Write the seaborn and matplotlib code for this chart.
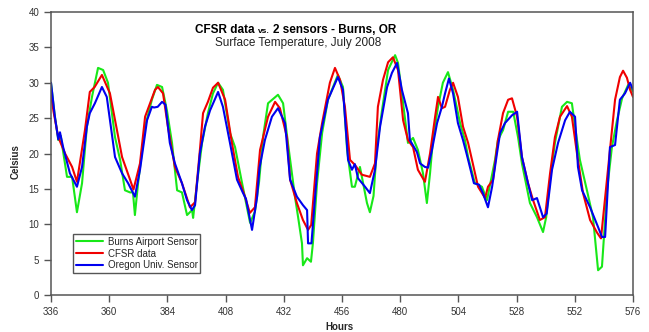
import matplotlib
matplotlib.use("Agg")
import matplotlib.pyplot as plt
import seaborn as sns
import pandas as pd
from matplotlib.offsetbox import TextArea, HPacker, AnnotationBbox

# --- data (hour of month, deg C) ------------------------------------------
burns_hours = [336, 337.5, 339, 340, 342.6, 344.7, 346.7, 348.8, 350.8, 352.9,
               355.4, 357.5, 359.5, 362.4, 364.5, 366.5, 368.6, 369.8, 370.6, 371.9,
               374.8, 377.6, 379.7, 381.8, 383.8, 385.9, 388.0, 390.0, 392.1, 394.2,
               394.6, 396.2, 398.3, 400.7, 402.8, 404.9, 406.9, 409.8, 411.9, 414.8,
               416.8, 418.1, 420.1, 421.8, 423.5, 425.5, 429.6, 431.7, 433.7, 436.6,
               437.9, 439.5, 439.9, 441.6, 443.2, 444.0, 445.7, 447.8, 450.2, 454.3,
               456.4, 458.1, 460.1, 461.3, 463.4, 466.3, 467.5, 469.0, 470.4, 472.5,
               475.0, 477.9, 479.1, 481.2, 483.2, 485.3, 487.3, 489.4, 491.0, 492.3,
               493.5, 495.6, 497.6, 499.7, 501.8, 504.7, 506.7, 508.0, 510.8, 513.7,
               515.8, 519.1, 520.3, 522.4, 524.5, 526.6, 528.6, 530.2, 533.5, 536.4,
               538.9, 540.2, 541.8, 543.8, 546.7, 548.8, 550.8, 552.9, 554.1, 557.0,
               559.5, 561.6, 563.2, 565.3, 567.3, 569.4, 571.5, 574.0, 576.0]
burns_temp = [30.0, 25.5, 21.9, 22.5, 16.7, 16.7, 11.7, 15.8, 23.8, 28.0,
              32.1, 31.8, 30.0, 22.3, 19.1, 14.8, 14.5, 14.5, 11.3, 15.8,
              23.8, 27.6, 29.7, 29.4, 26.1, 21.5, 14.8, 14.5, 11.3, 12.0,
              10.9, 15.8, 21.5, 25.7, 28.5, 30.0, 29.0, 22.9, 20.9, 15.8,
              12.4, 10.2, 11.8, 16.0, 22.5, 27.1, 28.3, 27.1, 21.5, 13.9,
              11.0, 7.3, 4.2, 5.2, 4.7, 7.3, 15.8, 22.9, 27.6, 31.1,
              29.4, 20.5, 15.3, 15.3, 18.1, 13.0, 11.7, 14.0, 20.9, 26.1,
              31.8, 33.9, 32.8, 27.1, 21.5, 22.2, 20.5, 17.2, 13.0, 17.2,
              21.9, 26.6, 30.0, 31.5, 29.0, 24.3, 21.9, 19.5, 15.8, 15.3,
              13.4, 19.1, 21.9, 23.3, 25.9, 25.9, 22.3, 18.6, 13.0, 11.0,
              8.9, 11.0, 16.3, 21.5, 26.6, 27.3, 27.1, 21.9, 19.1, 14.8,
              11.0, 3.5, 4.0, 14.8, 20.9, 24.7, 27.8, 29.7, 28.8]

cfsr_hours = [336, 337, 339, 341.8, 344.7, 346.7, 350, 352, 354, 357,
              360.3, 363.2, 365.3, 368.6, 370.0, 372.7, 374.8, 378.9, 380.1, 382.2,
              384.2, 387.1, 390.0, 393.3, 395.4, 397.4, 398.7, 400.7, 402.8, 404.9,
              407.8, 410.6, 413.1, 416.0, 418.0, 420.1, 422.2, 425.5, 428.4, 430.4,
              433.3, 434.6, 437.4, 439.9, 442.0, 443.3, 445.7, 447.8, 451.0, 453.1,
              455.2, 457.2, 459.3, 461.3, 464.2, 467.5, 469.6, 470.8, 472.9, 475.0,
              477.0, 479.1, 481.2, 483.2, 485.3, 487.3, 490.2, 492.3, 494.4, 495.6,
              497.2, 498.5, 500.5, 501.8, 503.8, 505.9, 508.0, 509.6, 512.1, 515.0,
              516.2, 518.3, 520.3, 522.4, 524.5, 526.1, 528.2, 530.2, 532.7, 534.8,
              537.6, 539.7, 541.8, 543.8, 545.9, 548.8, 550.8, 552.9, 555.4, 558.3,
              561.2, 562.8, 566.5, 568.6, 570.6, 571.9, 573.5, 574.8, 576.0]
cfsr_temp = [28.5, 26.0, 22.3, 20.0, 18.1, 16.0, 23.3, 28.7, 29.4, 31.1,
             28.5, 23.3, 19.5, 16.3, 14.9, 18.6, 25.2, 29.0, 29.4, 28.5,
             23.8, 18.1, 15.8, 12.4, 13.1, 20.5, 25.7, 27.3, 29.3, 30.0,
             27.6, 21.5, 16.7, 13.9, 11.6, 12.4, 20.5, 25.2, 27.3, 26.4,
             22.3, 16.3, 13.0, 10.6, 9.2, 9.9, 20.0, 24.3, 30.0, 32.1,
             30.4, 26.6, 19.1, 18.4, 17.0, 16.7, 18.6, 26.6, 30.4, 32.9,
             33.6, 31.8, 24.7, 21.9, 20.9, 17.7, 16.0, 20.0, 25.2, 28.0,
             26.4, 26.6, 29.0, 30.0, 28.0, 23.8, 21.5, 19.1, 15.3, 13.7,
             15.3, 16.3, 21.9, 25.7, 27.6, 27.8, 25.2, 19.5, 15.8, 13.4,
             10.6, 11.0, 17.2, 22.3, 25.2, 26.7, 25.2, 20.0, 14.4, 10.6,
             8.8, 8.0, 20.5, 27.6, 30.8, 31.7, 30.7, 29.0, 28.0]

oregon_hours = [336, 337.6, 339, 339.7, 341, 343.8, 346.7, 348.8, 350.8, 352,
                354.1, 357, 359, 362.4, 365.3, 367.8, 370.6, 372.7, 375.6, 377.6,
                378.5, 380, 381.8, 383.2, 385.0, 387.1, 390.0, 392.1, 394.1, 395.4,
                397.4, 399.5, 401.6, 404.9, 406.9, 409.8, 412.7, 415.2, 416.4, 418.9,
                421.0, 422.0, 424.2, 427.1, 429.6, 432.5, 434.6, 437.4, 439.9, 441.6,
                442.0, 443.4, 444.9, 446.9, 450.2, 454.3, 456.4, 458.5, 460.1, 461.3,
                462.6, 465.5, 467.5, 469.6, 471.7, 474.6, 476.6, 478.7, 480.7, 483.2,
                484.0, 486.9, 488.2, 490.2, 491.5, 493.1, 495.2, 497.2, 498.5, 500.1,
                501.8, 503.8, 505.9, 507.5, 510.4, 512.5, 514.1, 516.2, 517.9, 519.9,
                521.2, 523.2, 526.1, 528.2, 530.2, 532.7, 534.4, 536.4, 538.9, 540.4,
                542.6, 545.1, 548.0, 550.0, 552.1, 553.3, 555.0, 558.3, 561.6, 563.2,
                564.5, 566.5, 568.6, 570.6, 572.7, 574.8, 576.0]
oregon_temp = [30.0, 25.2, 22.0, 23.0, 20.9, 17.2, 15.3, 18.1, 23.8, 25.7,
               27.1, 29.4, 28.0, 19.5, 17.2, 15.8, 13.9, 17.7, 24.7, 26.6,
               26.5, 26.6, 27.3, 26.9, 21.5, 18.6, 15.8, 13.4, 12.0, 12.7,
               20.0, 23.8, 26.1, 28.7, 26.6, 21.5, 16.3, 14.4, 13.6, 9.2,
               13.9, 18.0, 21.9, 25.2, 26.4, 24.3, 16.3, 13.9, 12.7, 12.0,
               7.3, 7.3, 13.9, 22.3, 27.6, 30.8, 29.0, 19.1, 17.7, 18.5,
               16.5, 15.3, 14.4, 17.7, 23.8, 29.4, 31.4, 32.8, 29.0, 25.7,
               21.9, 20.2, 18.6, 18.1, 18.0, 20.5, 24.3, 26.6, 28.5, 30.6,
               28.5, 24.3, 21.9, 19.8, 15.8, 15.6, 14.4, 12.4, 15.3, 20.0,
               22.9, 24.3, 25.4, 25.9, 19.5, 15.8, 13.4, 13.7, 11.0, 11.5,
               17.7, 21.5, 24.7, 25.9, 25.2, 18.1, 14.8, 12.4, 9.6, 8.2,
               8.2, 20.9, 21.2, 27.6, 28.5, 30.0, 29.0]

series_names = ["Burns Airport Sensor", "CFSR data", "Oregon Univ. Sensor"]
series_colors = ["#18e818", "#f00000", "#0000f0"]
x_ticks = list(range(336, 577, 24))
y_ticks = list(range(0, 41, 5))

df = pd.concat([
    pd.DataFrame({"hour": burns_hours, "temp": burns_temp, "series": series_names[0]}),
    pd.DataFrame({"hour": cfsr_hours, "temp": cfsr_temp, "series": series_names[1]}),
    pd.DataFrame({"hour": oregon_hours, "temp": oregon_temp, "series": series_names[2]}),
], ignore_index=True)

# --- style -----------------------------------------------------------------
sns.set_style("ticks")
plt.rcParams["font.family"] = ["Liberation Sans", "DejaVu Sans"]

fig = plt.figure(figsize=(6.49, 3.32), dpi=100)
ax = fig.add_axes([51 / 649, 37 / 332, 582 / 649, 283 / 332])

sns.lineplot(data=df, x="hour", y="temp", hue="series", hue_order=series_names,
             palette=series_colors, estimator=None, sort=True, linewidth=1.5,
             ax=ax)

ax.set_xlim(336, 576)
ax.set_ylim(0, 40)
ax.set_xticks(x_ticks)
ax.set_yticks(y_ticks)
ax.tick_params(axis="both", direction="out", length=5, width=1.0,
               color="#555555", labelsize=7, labelcolor="#333333", pad=3.5)
for side in ["left", "bottom", "right", "top"]:
    ax.spines[side].set_visible(True)
    ax.spines[side].set_color("#555555")
    ax.spines[side].set_linewidth(1.1)

ax.set_xlabel("Hours", fontsize=7, fontweight="bold")
ax.set_ylabel("Celsius", fontsize=7, fontweight="bold")
ax.xaxis.set_label_coords(0.495, -0.095)
ax.yaxis.set_label_coords(-0.053, 0.47)

leg = ax.legend(loc="lower left", bbox_to_anchor=(0.038, 0.078),
                borderaxespad=0, fontsize=7, frameon=True, fancybox=False,
                framealpha=1, edgecolor="#555555", handlelength=2.8,
                handletextpad=0.5, labelspacing=0.2, borderpad=0.25)
leg.get_frame().set_linewidth(1.0)
for line in leg.get_lines():
    line.set_linewidth(1.5)

# title with a small "vs." in the middle
bold = dict(fontsize=8.5, fontweight="bold", color="black")
small = dict(fontsize=6, fontweight="bold", color="black")
title_box = HPacker(children=[TextArea("CFSR data", textprops=bold),
                              TextArea("vs.", textprops=small),
                              TextArea("2 sensors - Burns, OR", textprops=bold)],
                    align="baseline", pad=0, sep=2.5)
ab = AnnotationBbox(title_box, (0.421, 0.938), xycoords="axes fraction",
                    box_alignment=(0.5, 0.5), frameon=False)
ax.add_artist(ab)
ax.text(0.425, 0.890, "Surface Temperature, July 2008", transform=ax.transAxes,
        ha="center", va="center", fontsize=8.5, color="#222222")

fig.savefig("out.png", dpi=100)
